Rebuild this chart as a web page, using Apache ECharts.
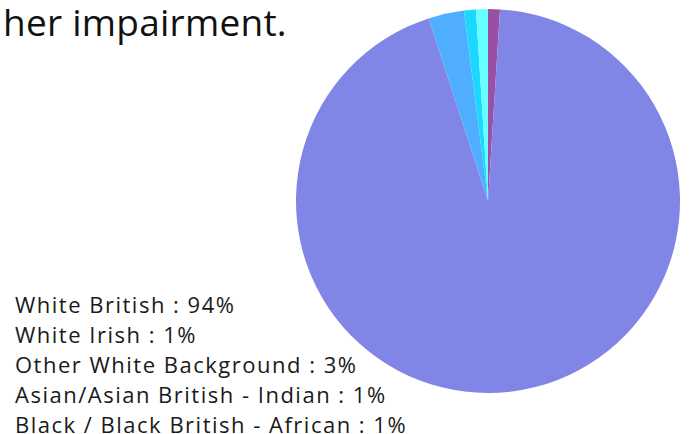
<!DOCTYPE html>
<html>
<head>
<meta charset="utf-8">
<script src="https://cdn.jsdelivr.net/npm/echarts@6/dist/echarts.min.js"></script>
<style>
  html, body { margin: 0; padding: 0; background: #fff; }
  #chart { width: 689px; height: 434px; }
  /* the key lines are set with a little tracking */
  #chart text[style*="22px"] { letter-spacing: 1.5px; }
  #chart text[style*="37px"] { letter-spacing: 0.25px; }
</style>
</head>
<body>
<div id="chart"></div>
<script>
// Ethnicity breakdown (percent)
const legendOrder = [
  'White British',
  'White Irish',
  'Other White Background',
  'Asian/Asian British - Indian',
  'Black / Black British - African'
];
// Slice order around the pie, clockwise from 12 o'clock
const sliceNames = [
  'White Irish',
  'White British',
  'Other White Background',
  'Asian/Asian British - Indian',
  'Black / Black British - African'
];
const sliceValues = [1, 94, 3, 1, 1];
const sliceColors = ['#9a4fa7', '#8085e6', '#4faeff', '#1cd8ff', '#66ffff'];

const valueByName = {};
sliceNames.forEach((n, i) => { valueByName[n] = sliceValues[i]; });

// Text key in the lower-left corner, one line per category
const keyLeft = 15;
const keyFirstY = 303.5;
const keyStep = 30.2;
const keyTexts = legendOrder.map((name, i) => ({
  type: 'text',
  x: keyLeft,
  y: keyFirstY + i * keyStep,
  silent: true,
  style: {
    text: name + ' : ' + valueByName[name] + '%',
    fontFamily: 'Open Sans',
    fontSize: 22,
    fill: '#1a1a1a',
    verticalAlign: 'middle'
  }
}));

const chart = echarts.init(document.getElementById('chart'), null, { renderer: 'svg' });
chart.setOption({
  animation: false,
  title: {
    text: 'her impairment.',
    left: -2,
    top: -2,
    textStyle: {
      fontFamily: 'Open Sans',
      fontSize: 37,
      fontWeight: 'normal',
      color: '#111111'
    }
  },
  graphic: keyTexts,
  series: [{
    type: 'pie',
    center: [488, 201],
    radius: 192,
    startAngle: 90,
    clockwise: true,
    label: { show: false },
    labelLine: { show: false },
    emphasis: { disabled: true },
    itemStyle: { borderWidth: 0 },
    data: sliceNames.map((n, i) => ({
      name: n,
      value: sliceValues[i],
      itemStyle: { color: sliceColors[i] }
    }))
  }]
});
</script>
</body>
</html>
